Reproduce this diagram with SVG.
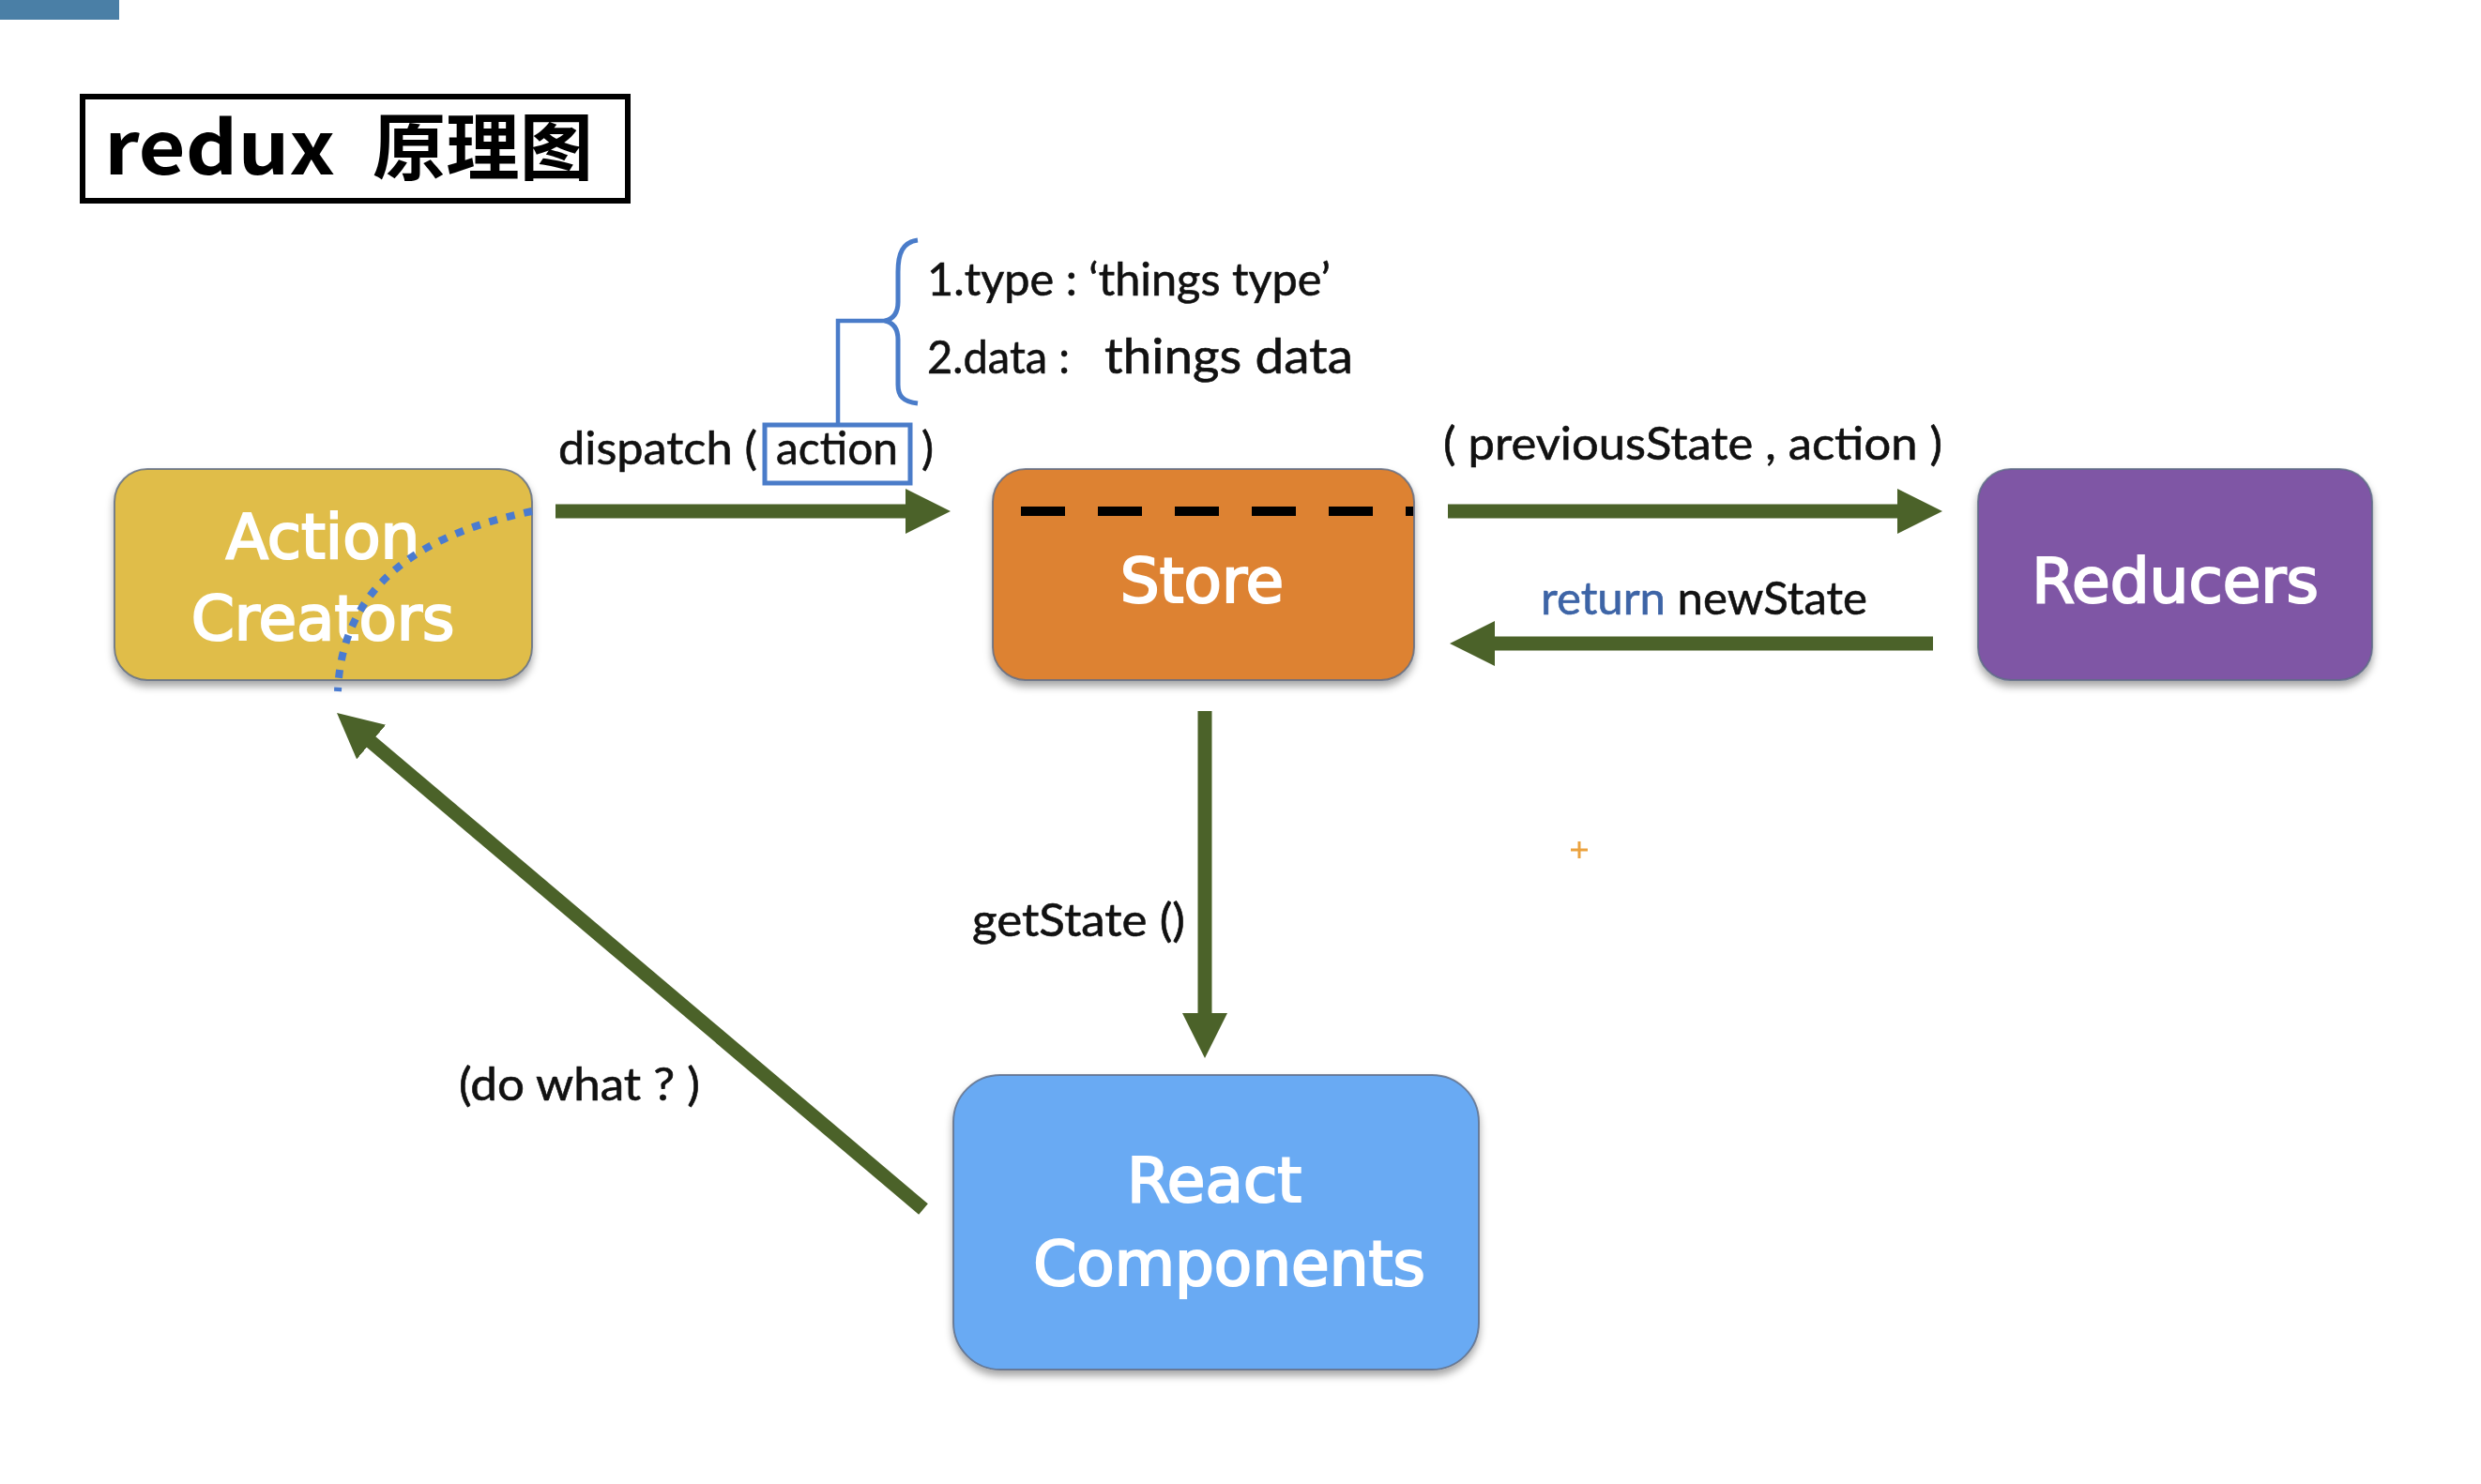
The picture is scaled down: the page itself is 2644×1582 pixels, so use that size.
<svg xmlns="http://www.w3.org/2000/svg" width="2644" height="1582" viewBox="0 0 2644 1582">
<defs>
<style>
.node-label{font-family:"DejaVu Sans","Liberation Sans",sans-serif;font-size:66px;fill:#ffffff;stroke:#ffffff;stroke-width:2.2px;text-anchor:middle;}
.lbl{font-family:Lato,"Liberation Sans",sans-serif;font-size:49px;fill:#111111;stroke:#111111;stroke-width:0.6px;}
.conn{stroke:#4b6229;stroke-width:15;fill:none;marker-end:url(#ah);}
.box{stroke:#5e6c85;stroke-width:2;stroke-opacity:0.8;filter:url(#sh);}
.blue{stroke:#4a7cc9;fill:none;}
</style>
<marker id="ah" markerUnits="userSpaceOnUse" markerWidth="50" markerHeight="50" refX="1" refY="24" orient="auto">
<path d="M0,0 L48,24 L0,48 Z" fill="#4b6229"/>
</marker>
<filter id="sh" x="-10%" y="-10%" width="120%" height="130%">
<feDropShadow dx="0" dy="6" stdDeviation="4" flood-color="#000000" flood-opacity="0.35"/>
</filter>
</defs>
<rect width="2644" height="1582" fill="#ffffff"/>
<rect x="0" y="0" width="127" height="21" fill="#4a7fa6"/>

<g id="title">
<rect x="88" y="103" width="581" height="111" fill="none" stroke="#000000" stroke-width="6"/>
<text y="186" font-family="'Noto Sans CJK SC','DejaVu Sans',sans-serif" font-weight="700" font-size="78" fill="#000000"><tspan x="111" textLength="246" lengthAdjust="spacingAndGlyphs">redux</tspan><tspan x="397" textLength="235" lengthAdjust="spacingAndGlyphs">原理图</tspan></text>
</g>

<g id="action-creators">
<rect class="box" x="122" y="500" width="445" height="225" rx="35" fill="#e0bd48"/>
<text class="node-label" x="344" y="595">Action</text>
<text class="node-label" x="344" y="682">Creators</text>
</g>

<g id="store">
<rect class="box" x="1058" y="500" width="449" height="225" rx="35" fill="#dd8233"/>
<line x1="1088" y1="545" x2="1506" y2="545" stroke="#000000" stroke-width="10" stroke-dasharray="47 35"/>
<text class="node-label" x="1281" y="642">Store</text>
</g>

<g id="reducers">
<rect class="box" x="2108" y="500" width="420" height="225" rx="35" fill="#7f56a5"/>
<text class="node-label" x="2318" y="642">Reducers</text>
</g>

<g id="react-components">
<rect class="box" x="1016" y="1146" width="560" height="314" rx="50" fill="#69aaf3"/>
<text class="node-label" x="1294" y="1281">React</text>
<text class="node-label" x="1310" y="1370">Components</text>
</g>

<g id="dotted-curve">
<path d="M567,545 C470,565 365,610 360,737" stroke="#4a7bd0" stroke-width="8" fill="none" stroke-dasharray="9 10"/>
</g>

<g id="action-detail">
<rect class="blue" x="815" y="453" width="155" height="62" stroke-width="5"/>
<path class="blue" d="M893,453 L893,342 L943,342" stroke-width="4.5"/>
<path class="blue" d="M978,256 C962,258 957,270 957,290 L957,322 C957,334 952,340 943,342 C952,344 957,350 957,362 L957,410 C957,422 962,428 978,430" stroke-width="5"/>
<text class="lbl" x="988" y="315" textLength="430" lengthAdjust="spacingAndGlyphs">1.type : ‘things type’</text>
<text class="lbl" y="398"><tspan x="988" textLength="152" lengthAdjust="spacingAndGlyphs">2.data :</tspan><tspan x="1177" font-size="53" textLength="265" lengthAdjust="spacingAndGlyphs">things data</tspan></text>
</g>

<g id="connectors">
<line class="conn" x1="592" y1="545" x2="966" y2="545"/>
<line class="conn" x1="1543" y1="545" x2="2023" y2="545"/>
<line class="conn" x1="2060" y1="686" x2="1592" y2="686"/>
<line class="conn" x1="1284" y1="758" x2="1284" y2="1081"/>
<line class="conn" x1="984" y1="1289" x2="394.9" y2="790.4"/>
</g>

<g id="labels">
<text class="lbl" y="495"><tspan x="595" textLength="212" lengthAdjust="spacingAndGlyphs">dispatch (</tspan><tspan x="827" textLength="130" lengthAdjust="spacingAndGlyphs">action</tspan><tspan x="982">)</tspan></text>
<text class="lbl" x="1538" y="490" textLength="532" lengthAdjust="spacingAndGlyphs">( previousState , action )</text>
<text class="lbl" x="1642" y="655" textLength="348" lengthAdjust="spacingAndGlyphs"><tspan fill="#3d64a6" stroke="#3d64a6">return</tspan> newState</text>
<text class="lbl" x="1036" y="998" textLength="227" lengthAdjust="spacingAndGlyphs">getState ()</text>
<text class="lbl" x="489" y="1173" textLength="257" lengthAdjust="spacingAndGlyphs">(do what ? )</text>
</g>

<g id="plus-mark" stroke="#eba23f" stroke-width="3">
<line x1="1674" y1="906" x2="1692" y2="906"/>
<line x1="1683" y1="897" x2="1683" y2="915"/>
</g>
</svg>
